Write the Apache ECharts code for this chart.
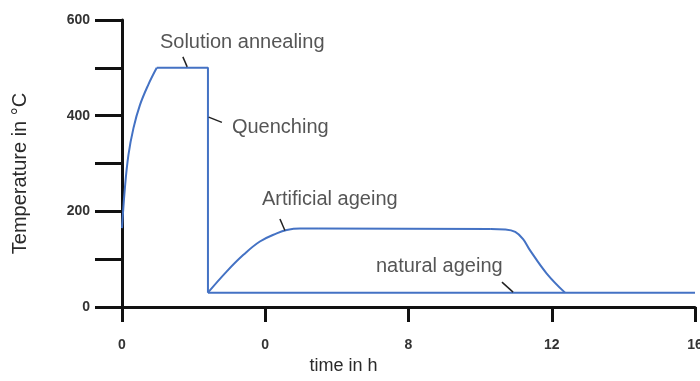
<!DOCTYPE html>
<html>
<head>
<meta charset="utf-8">
<script src="https://cdn.jsdelivr.net/npm/echarts@6/dist/echarts.min.js"></script>
<style>html,body{margin:0;padding:0;background:#fff}#c{width:700px;height:381px}</style>
</head>
<body>
<div id="c"></div>
<script>
// x tick labels as printed on the reference (positions 0,4,8,12,16)
const xTickValues = [0, 4, 8, 12, 16];
const xTickLabels = ['0', '0', '8', '12', '16'];
const yLabelValues = [0, 200, 400, 600];

// heating ramp to solution annealing
const heating = [[0, 165], [0.08, 248], [0.18, 318], [0.32, 374], [0.5, 422], [0.73, 464], [0.97, 500]];
// holding + quenching
const holdQuench = [[0.97, 500], [2.4, 500], [2.4, 30]];
// artificial ageing: rise, hold, cool
const agingRise = [[2.4, 30], [2.92, 74], [3.39, 109], [3.85, 137], [4.32, 154], [4.6, 161], [4.97, 164], [5.5, 164]];
const agingHold = [[5.5, 164], [10.3, 163]];
const agingCool = [[10.3, 163], [10.7, 162], [10.98, 157], [11.2, 142], [11.39, 119], [11.86, 70], [12.37, 30]];
// natural ageing
const natural = [[2.4, 30], [16, 30]];

// annotation texts (left x, centre y in data units) and leader lines
const annoTexts = ['Solution annealing', 'Quenching', 'Artificial ageing', 'natural ageing'];
const annoPos = [[1.06, 554], [3.07, 376], [3.91, 224], [7.09, 84]];
const leaders = [
  [[1.70, 523], [1.82, 502]],
  [[2.42, 397], [2.79, 386]],
  [[4.41, 184], [4.55, 160]],
  [[10.61, 52], [10.92, 31]]
];

const FONT = 'Liberation Sans';
const BLUE = '#4472c4';
const chart = echarts.init(document.getElementById('c'));

function lineSeries(data, smooth) {
  return {
    type: 'line', data: data, showSymbol: false, symbol: 'none',
    smooth: smooth, lineStyle: { color: BLUE, width: 2 }, z: 3, silent: true
  };
}

const series = [
  lineSeries(heating, 0.4),
  lineSeries(holdQuench, false),
  lineSeries(agingRise, 0.4),
  lineSeries(agingHold, false),
  lineSeries(agingCool, 0.4),
  lineSeries(natural, false),
  {
    type: 'line', data: [], silent: true,
    markLine: {
      silent: true, symbol: 'none', animation: false,
      lineStyle: { color: '#222', width: 1.5, type: 'solid' },
      label: { show: false },
      data: leaders.map(l => [{ coord: l[0] }, { coord: l[1] }])
    }
  },
  {
    type: 'scatter', symbolSize: 0, silent: true,
    data: annoPos.map((p, i) => ({ value: p, name: annoTexts[i] })),
    label: {
      show: true, position: 'right', distance: 0,
      formatter: p => p.name,
      color: '#2a2a2a', fontSize: 20, fontFamily: FONT
    }
  }
];

chart.setOption({
  animation: false,
  grid: { left: 122, right: 5, top: 20, bottom: 74, outerBoundsMode: 'none', containLabel: false },
  xAxis: {
    type: 'value', min: 0, max: 16, interval: 4,
    name: 'time in h', nameLocation: 'middle', nameGap: 50,
    nameTextStyle: { color: '#2a2a2a', fontSize: 18, fontFamily: FONT, padding: [0, 130, 0, 0] },
    axisLine: { show: true, lineStyle: { color: '#111', width: 3 } },
    axisTick: { show: true, length: 15, lineStyle: { color: '#111', width: 3 } },
    axisLabel: {
      margin: 31, color: '#333', fontSize: 14, fontWeight: 'bold', fontFamily: FONT,
      formatter: v => { const i = xTickValues.indexOf(v); return i >= 0 ? xTickLabels[i] : ''; }
    },
    splitLine: { show: false }
  },
  yAxis: {
    type: 'value', min: 0, max: 600, interval: 100,
    name: 'Temperature in °C', nameLocation: 'middle', nameGap: 92,
    nameTextStyle: { color: '#2a2a2a', fontSize: 20, fontFamily: FONT, padding: [0, 20, 0, 0] },
    axisLine: { show: true, lineStyle: { color: '#111', width: 3 } },
    axisTick: { show: true, length: 27, lineStyle: { color: '#111', width: 3 } },
    axisLabel: {
      margin: 32, color: '#333', fontSize: 14, fontWeight: 'bold', fontFamily: FONT,
      formatter: v => yLabelValues.indexOf(v) >= 0 ? String(v) : ''
    },
    splitLine: { show: false }
  },
  series: series
});
</script>
</body>
</html>
